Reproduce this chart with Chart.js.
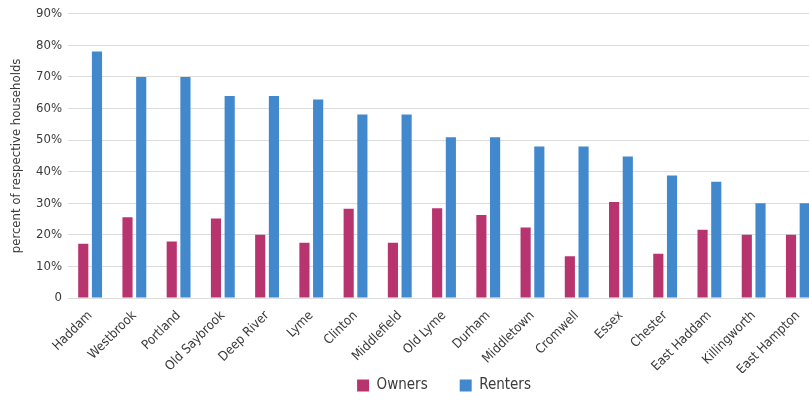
<!DOCTYPE html>
<html>
<head>
<meta charset="utf-8">
<script src="https://cdn.jsdelivr.net/npm/chart.js@4"></script>
<style>
  html, body { margin: 0; padding: 0; background: #fff; overflow: hidden; }
  #wrap { position: relative; width: 822px; height: 400px; }
</style>
</head>
<body>
<div id="wrap"><canvas id="c"></canvas></div>
<script>
// ── Data ──────────────────────────────────────────────────────
const towns = ["Haddam", "Westbrook", "Portland", "Old Saybrook", "Deep River", "Lyme", "Clinton", "Middlefield",
  "Old Lyme", "Durham", "Middletown", "Cromwell", "Essex", "Chester", "East Haddam", "Killingworth", "East Hampton"];
const owners  = [17.2, 25.6, 17.9, 25.2, 20.0, 17.5, 28.3, 17.5, 28.4, 26.3, 22.3, 13.2, 30.4, 14.0, 21.6, 20.0, 20.0];
const renters = [78.1, 70.0, 70.0, 64.0, 64.0, 62.9, 58.1, 58.1, 50.9, 50.9, 48.0, 48.0, 44.8, 38.8, 36.8, 30.0, 30.0];
const yTicks  = [0, 10, 20, 30, 40, 50, 60, 70, 80, 90];

const FONT = "'DejaVu Sans Condensed', 'Liberation Sans Narrow', sans-serif";
const INK = "#3a3a3a";

new Chart(document.getElementById("c"), {
  type: "bar",
  data: {
    labels: towns,
    datasets: [
      { label: "Owners",  data: owners,  backgroundColor: "#b8346f", barPercentage: 0.74, categoryPercentage: 0.62 },
      { label: "Renters", data: renters, backgroundColor: "#4189cc", barPercentage: 0.74, categoryPercentage: 0.62 },
    ],
  },
  options: {
    responsive: true, maintainAspectRatio: false, animation: false,
    layout: { padding: { top: 10, left: 9, right: 2, bottom: -3 } },
    plugins: {
      tooltip: { enabled: false },
      legend: {
        position: "bottom", fullSize: false,
        labels: {
          font: { family: FONT, size: 15 }, color: INK, boxWidth: 12, boxHeight: 12, padding: 5,
          // widen the gap between the two entries
          generateLabels: ch => Chart.defaults.plugins.legend.labels.generateLabels(ch)
            .map((l, i, a) => ({ ...l, text: i < a.length - 1 ? l.text + "\u2003\u2003" : l.text })),
        },
      },
    },
    scales: {
      x: {
        afterFit: s => { s.height = 75; },
        grid: { display: false },
        border: { display: false },
        ticks: { font: { family: FONT, size: 13 }, color: INK, minRotation: 45, maxRotation: 45, padding: 2 },
      },
      y: {
        min: 0, max: 90,
        afterBuildTicks: s => { s.ticks = yTicks.map(v => ({ value: v })); },
        afterFit: s => { s.width = 59; },
        grid: { color: "#dcdcdc", drawTicks: false },
        border: { display: false },
        ticks: { font: { family: FONT, size: 13 }, color: INK, padding: 6, callback: v => v === 0 ? "0" : `${v}%` },
        title: { display: true, text: "percent of respective households", font: { family: FONT, size: 13 }, color: INK, padding: 0 },
      },
    },
  },
});
</script>
</body>
</html>
